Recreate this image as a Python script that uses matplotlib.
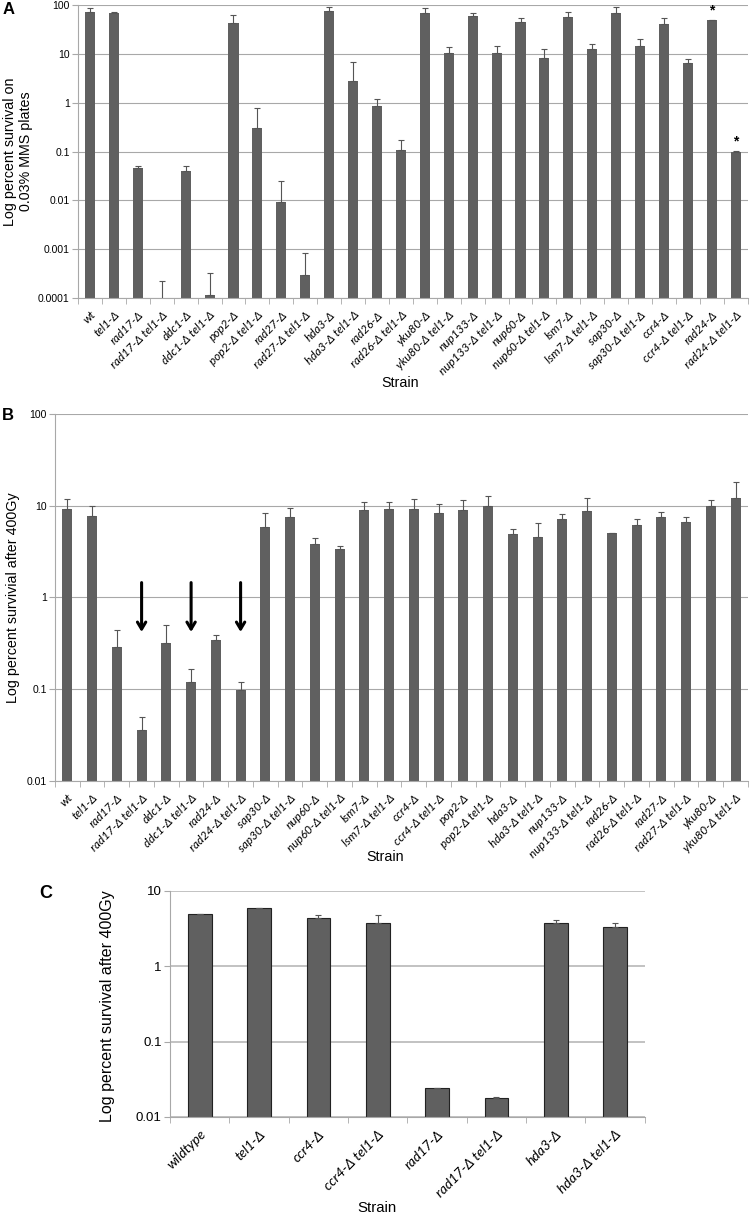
import numpy as np
import matplotlib
matplotlib.use('Agg')
import matplotlib.pyplot as plt

# ---- data: panel A (MMS survival) ----
a_strains = ['wt', 'tel1-Δ', 'rad17-Δ', 'rad17-Δ tel1-Δ', 'ddc1-Δ', 'ddc1-Δ tel1-Δ',
             'pop2-Δ', 'pop2-Δ tel1-Δ', 'rad27-Δ', 'rad27-Δ tel1-Δ', 'hda3-Δ', 'hda3-Δ tel1-Δ',
             'rad26-Δ', 'rad26-Δ tel1-Δ', 'yku80-Δ', 'yku80-Δ tel1-Δ', 'nup133-Δ', 'nup133-Δ tel1-Δ',
             'nup60-Δ', 'nup60-Δ tel1-Δ', 'lsm7-Δ', 'lsm7-Δ tel1-Δ', 'sap30-Δ', 'sap30-Δ tel1-Δ',
             'ccr4-Δ', 'ccr4-Δ tel1-Δ', 'rad24-Δ', 'rad24-Δ tel1-Δ']
a_values = [73, 70, 0.046, 0.00002, 0.039, 0.000116,
            42, 0.31, 0.0091, 0.0003, 77, 2.84,
            0.87, 0.108, 68, 10.6, 60, 10.4,
            45, 8.2, 58, 12.6, 70, 14.7,
            41, 6.4, 48.6, 0.1]
a_errors = [12, 1, 0.005, 0.0002, 0.011, 0.00021,
            20, 0.46, 0.0157, 0.00053, 13, 3.9,
            0.31, 0.062, 18, 3.2, 9, 3.9,
            10, 4.6, 14, 3.3, 22, 5.2,
            13, 1.5, 0.8, 0.001]
a_starred = ['rad24-Δ', 'rad24-Δ tel1-Δ']

# ---- data: panel B (400Gy survival) ----
b_strains = ['wt', 'tel1-Δ', 'rad17-Δ', 'rad17-Δ tel1-Δ', 'ddc1-Δ', 'ddc1-Δ tel1-Δ',
             'rad24-Δ', 'rad24-Δ tel1-Δ', 'sap30-Δ', 'sap30-Δ tel1-Δ', 'nup60-Δ', 'nup60-Δ tel1-Δ',
             'lsm7-Δ', 'lsm7-Δ tel1-Δ', 'ccr4-Δ', 'ccr4-Δ tel1-Δ', 'pop2-Δ', 'pop2-Δ tel1-Δ',
             'hda3-Δ', 'hda3-Δ tel1-Δ', 'nup133-Δ', 'nup133-Δ tel1-Δ', 'rad26-Δ', 'rad26-Δ tel1-Δ',
             'rad27-Δ', 'rad27-Δ tel1-Δ', 'yku80-Δ', 'yku80-Δ tel1-Δ']
b_values = [9.3, 7.65, 0.285, 0.036, 0.32, 0.119,
            0.343, 0.098, 5.9, 7.46, 3.82, 3.4,
            9.04, 9.27, 9.27, 8.25, 8.97, 9.9,
            4.95, 4.55, 7.16, 8.75, 5.03, 6.15,
            7.52, 6.64, 9.9, 12.0]
b_errors = [2.6, 2.35, 0.155, 0.0136, 0.184, 0.048,
            0.045, 0.021, 2.4, 1.94, 0.62, 0.23,
            2.06, 1.69, 2.63, 2.15, 2.63, 2.7,
            0.65, 1.98, 0.89, 3.45, 0.05, 1.01,
            1.01, 0.88, 1.5, 6.1]
b_arrowed = ['rad17-Δ tel1-Δ', 'ddc1-Δ tel1-Δ', 'rad24-Δ tel1-Δ']

# ---- data: panel C ----
c_strains = ['wildtype', 'tel1-Δ', 'ccr4-Δ', 'ccr4-Δ tel1-Δ', 'rad17-Δ', 'rad17-Δ tel1-Δ',
             'hda3-Δ', 'hda3-Δ tel1-Δ']
c_values = [5.0, 6.0, 4.35, 3.77, 0.0239, 0.0178, 3.77, 3.34]
c_errors = [0, 0, 0.5, 1.0, 0.0004, 0.0007, 0.4, 0.46]

bar_col = '#606060'
grid_col = '#a8a8a8'
sans = ['Liberation Sans', 'DejaVu Sans']
ital = ['Lato', 'Open Sans', 'DejaVu Sans']

fig = plt.figure(figsize=(7.5, 12.17), dpi=100)


def log_panel(rect, strains, values, errors, ylim, yticks, ylabels, width, tickfs,
              edge=None, gridlw=0.8, gridcol=grid_col):
    ax = fig.add_axes(rect)
    x = np.arange(len(strains))
    ax.set_yscale('log')
    ax.bar(x, values, width=width, color=bar_col, edgecolor=edge if edge else bar_col,
           linewidth=0.8 if edge else 0, zorder=2)
    ax.errorbar(x, values, yerr=[np.zeros(len(errors)), errors], fmt='none',
                ecolor='#555555', elinewidth=0.8, capsize=2.5, capthick=0.8, zorder=3)
    ax.set_ylim(*ylim)
    ax.set_xlim(-0.5, len(strains) - 0.5)
    ax.set_yticks(yticks)
    ax.set_yticklabels(ylabels, family=sans, fontsize=7.5)
    ax.yaxis.set_minor_locator(matplotlib.ticker.NullLocator())
    ax.set_xticks(x)
    ax.set_xticklabels(strains, rotation=45, ha='right', rotation_mode='anchor',
                       fontsize=tickfs, style='italic', family=ital)
    ax.set_xticks(np.arange(len(strains) + 1) - 0.5, minor=True)
    ax.tick_params(axis='x', which='major', length=0, pad=8)
    ax.tick_params(axis='x', which='minor', length=4, color=grid_col, direction='out')
    ax.tick_params(axis='y', length=4, color=grid_col, pad=2)
    ax.yaxis.grid(True, color=gridcol, linewidth=gridlw, zorder=0)
    for s in ['top', 'right']:
        ax.spines[s].set_visible(False)
    for s in ['left', 'bottom']:
        ax.spines[s].set_color(grid_col)
        ax.spines[s].set_linewidth(0.8)
    return ax


# panel A
axA = log_panel([0.104, 0.7551, 0.893, 0.2408], a_strains, a_values, a_errors,
                (1e-4, 100), [1e-4, 1e-3, 1e-2, 0.1, 1, 10, 100],
                ['0.0001', '0.001', '0.01', '0.1', '1', '10', '100'], 0.42, 8.5)
axA.set_ylabel('Log percent survival on\n0.03% MMS plates', family=sans, fontsize=10.3)
axA.yaxis.set_label_coords(-0.067, 0.5)
for name in a_starred:
    i = a_strains.index(name)
    axA.text(i, (a_values[i] + a_errors[i]) * 1.15, '*', ha='center', va='bottom',
             fontsize=10, fontweight='bold', family=sans)

# panel B
axB = log_panel([0.0733, 0.3583, 0.924, 0.3016], b_strains, b_values, b_errors,
                (0.01, 100), [0.01, 0.1, 1, 10, 100], ['0.01', '0.1', '1', '10', '100'],
                0.4, 8.5)
axB.set_ylabel('Log percent survivial after 400Gy', family=sans, fontsize=10.3)
axB.yaxis.set_label_coords(-0.05, 0.5)
for name in b_arrowed:
    i = b_strains.index(name)
    axB.annotate('', xy=(i, 0.42), xytext=(i, 1.45),
                 arrowprops=dict(arrowstyle='->, head_length=0.5, head_width=0.3',
                                 color='black', lw=2.2, shrinkA=0, shrinkB=0))

# panel C
axC = log_panel([0.2267, 0.0822, 0.633, 0.1857], c_strains, c_values, c_errors,
                (0.01, 10), [0.01, 0.1, 1, 10], ['0.01', '0.1', '1', '10'],
                0.4, 10, edge='#222222', gridlw=1.3, gridcol='#bdbdbd')
axC.set_ylabel('Log percent survival after 400Gy', family=sans, fontsize=11.5)
axC.yaxis.set_label_coords(-0.116, 0.49)
axC.tick_params(axis='y', labelsize=9.5)

# axis titles and panel letters
fig.text(400 / 750, 1 - 383 / 1217, 'Strain', ha='center', va='center', family=sans, fontsize=10.3)
fig.text(385 / 750, 1 - 857 / 1217, 'Strain', ha='center', va='center', family=sans, fontsize=10.3)
fig.text(377 / 750, 1 - 1208 / 1217, 'Strain', ha='center', va='center', family=sans, fontsize=10.8)
fig.text(9 / 750, 1 - 10 / 1217, 'A', ha='center', va='center', family=sans, fontsize=12, fontweight='bold')
fig.text(8 / 750, 1 - 416 / 1217, 'B', ha='center', va='center', family=sans, fontsize=12, fontweight='bold')
fig.text(46 / 750, 1 - 893 / 1217, 'C', ha='center', va='center', family=sans, fontsize=13, fontweight='bold')

fig.savefig('out.png', dpi=100)
